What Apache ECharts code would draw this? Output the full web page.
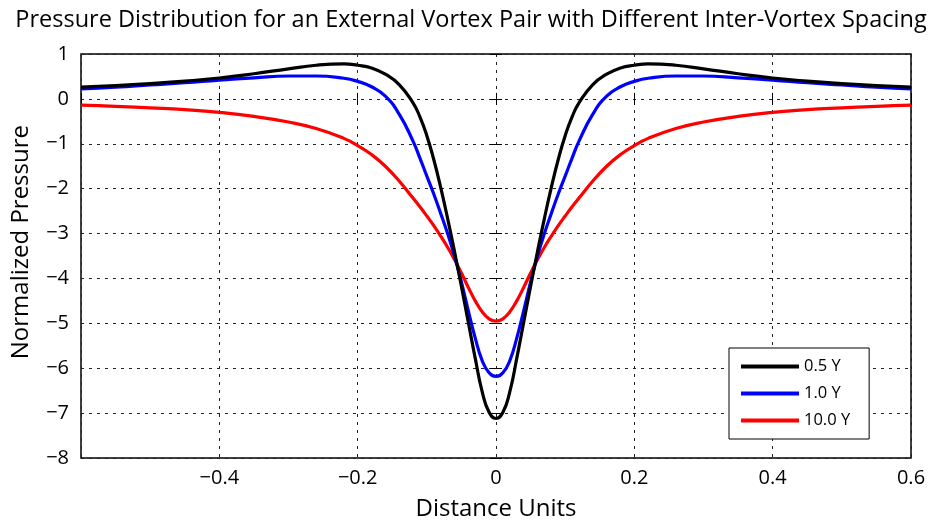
<!DOCTYPE html>
<html>
<head>
<meta charset="utf-8">
<script src="https://cdn.jsdelivr.net/npm/echarts@6/dist/echarts.min.js"></script>
<style>html,body{margin:0;padding:0;background:#fff}#c{width:942px;height:522px}</style>
</head>
<body>
<div id="c"></div>
<script>
const xs = [-0.6,-0.55,-0.5,-0.45,-0.4,-0.35,-0.3,-0.26,-0.22,-0.2,-0.18,-0.16,-0.14,-0.12,-0.11,-0.1,-0.09,-0.08,-0.07,-0.06,-0.05,-0.04,-0.03,-0.02,-0.01,0,
            0.01,0.02,0.03,0.04,0.05,0.06,0.07,0.08,0.09,0.1,0.11,0.12,0.14,0.16,0.18,0.2,0.22,0.26,0.3,0.35,0.4,0.45,0.5,0.55,0.6];
const y05 = [0.26,0.295,0.34,0.395,0.465,0.56,0.67,0.75,0.78,0.75,0.69,0.55,0.32,-0.09,-0.40,-0.82,-1.35,-1.97,-2.66,-3.40,-4.18,-4.98,-5.78,-6.52,-6.98,-7.12,
             -6.98,-6.52,-5.78,-4.98,-4.18,-3.40,-2.66,-1.97,-1.35,-0.82,-0.40,-0.09,0.32,0.55,0.69,0.75,0.78,0.75,0.67,0.56,0.465,0.395,0.34,0.295,0.26];
const y10 = [0.22,0.26,0.31,0.36,0.42,0.47,0.51,0.51,0.46,0.39,0.27,0.06,-0.34,-0.94,-1.32,-1.72,-2.12,-2.55,-3.0,-3.5,-4.08,-4.72,-5.33,-5.83,-6.1,-6.18,
             -6.1,-5.83,-5.33,-4.72,-4.08,-3.5,-3.0,-2.55,-2.12,-1.72,-1.32,-0.94,-0.34,0.06,0.27,0.39,0.46,0.51,0.51,0.47,0.42,0.36,0.31,0.26,0.22];
const y100 = [-0.14,-0.165,-0.2,-0.24,-0.30,-0.39,-0.515,-0.66,-0.88,-1.04,-1.24,-1.50,-1.83,-2.21,-2.405,-2.61,-2.825,-3.055,-3.305,-3.58,-3.88,-4.20,-4.50,-4.74,-4.90,-4.95,
              -4.90,-4.74,-4.50,-4.20,-3.88,-3.58,-3.305,-3.055,-2.825,-2.61,-2.405,-2.21,-1.83,-1.50,-1.24,-1.04,-0.88,-0.66,-0.515,-0.39,-0.30,-0.24,-0.2,-0.165,-0.14];
const seriesNames = ['0.5 Y','1.0 Y','10.0 Y'];
const seriesColors = ['#000000','#0000ff','#ff0000'];
const xTickLabels = {'-0.4':'\u22120.4','-0.2':'\u22120.2','0':'0','0.2':'0.2','0.4':'0.4','0.6':'0.6'};
const titleText = 'Pressure Distribution for an External Vortex Pair with Different Inter-Vortex Spacing';
const xName = 'Distance Units';
const yName = 'Normalized Pressure';

const FONT = 'Open Sans';
function pairs(ys){ return xs.map((x,i)=>[x, ys[i]]); }
function fmtY(v){ v = Math.round(v); return v < 0 ? '\u2212' + (-v) : String(v); }
function fmtX(v){ const k = (Math.round(v*10)/10).toString(); return xTickLabels[k] !== undefined ? xTickLabels[k] : ''; }

const chart = echarts.init(document.getElementById('c'), null, {renderer:'canvas'});
const allY = [y05, y10, y100];
chart.setOption({
  animation:false,
  backgroundColor:'#fff',
  title:{text:titleText,left:'center',top:3,textStyle:{fontFamily:FONT,fontSize:23.5,fontWeight:'normal',color:'#000'}},
  grid:{left:81,right:31,top:54,bottom:64,containLabel:false,outerBoundsMode:'none',show:true,borderColor:'#000',borderWidth:1.5,backgroundColor:'transparent'},
  graphic:[{
    type:'text',left:9,top:125,rotation:Math.PI/2,
    style:{text:yName,fontFamily:FONT,fontSize:24,fill:'#000'}
  }],
  legend:{
    orient:'vertical',left:729,top:348,
    data:seriesNames,
    backgroundColor:'#fff',borderColor:'#000',borderWidth:1,
    padding:[10,19,10,12],itemGap:10,itemWidth:58,itemHeight:4,icon:'rect',
    textStyle:{fontFamily:FONT,fontSize:16.5,color:'#000'}
  },
  xAxis:[{
    type:'value',min:-0.6,max:0.6,interval:0.2,
    name:xName,nameLocation:'middle',nameGap:39,
    nameTextStyle:{fontFamily:FONT,fontSize:24,color:'#000'},
    axisLine:{show:false},
    axisTick:{show:true,inside:true,length:6,lineStyle:{color:'#000'}},
    axisLabel:{formatter:fmtX,fontFamily:FONT,fontSize:20,color:'#000',margin:10,showMinLabel:true},
    splitLine:{show:true,lineStyle:{color:'#222',type:[3,5],width:1}}
  },{
    type:'value',min:-0.6,max:0.6,interval:0.2,position:'top',
    axisLine:{show:false},axisTick:{show:true,inside:true,length:6,lineStyle:{color:'#000'}},
    axisLabel:{show:false},splitLine:{show:false}
  }],
  yAxis:[{
    type:'value',min:-8,max:1,interval:1,
    axisLine:{show:false},
    axisTick:{show:true,inside:true,length:6,lineStyle:{color:'#000'}},
    axisLabel:{formatter:fmtY,fontFamily:FONT,fontSize:20,color:'#000',margin:12},
    splitLine:{show:true,lineStyle:{color:'#222',type:[3,5],width:1}}
  },{
    type:'value',min:-8,max:1,interval:1,position:'right',
    axisLine:{show:false},axisTick:{show:true,inside:true,length:6,lineStyle:{color:'#000'}},
    axisLabel:{show:false},splitLine:{show:false}
  }],
  series: seriesNames.map((n,i)=>({
    name:n,type:'line',data:pairs(allY[i]),
    showSymbol:false,symbol:'none',smooth:true,
    lineStyle:{color:seriesColors[i],width:3.2},itemStyle:{color:seriesColors[i]},
    z:3-i
  }))
});
</script>
</body>
</html>
